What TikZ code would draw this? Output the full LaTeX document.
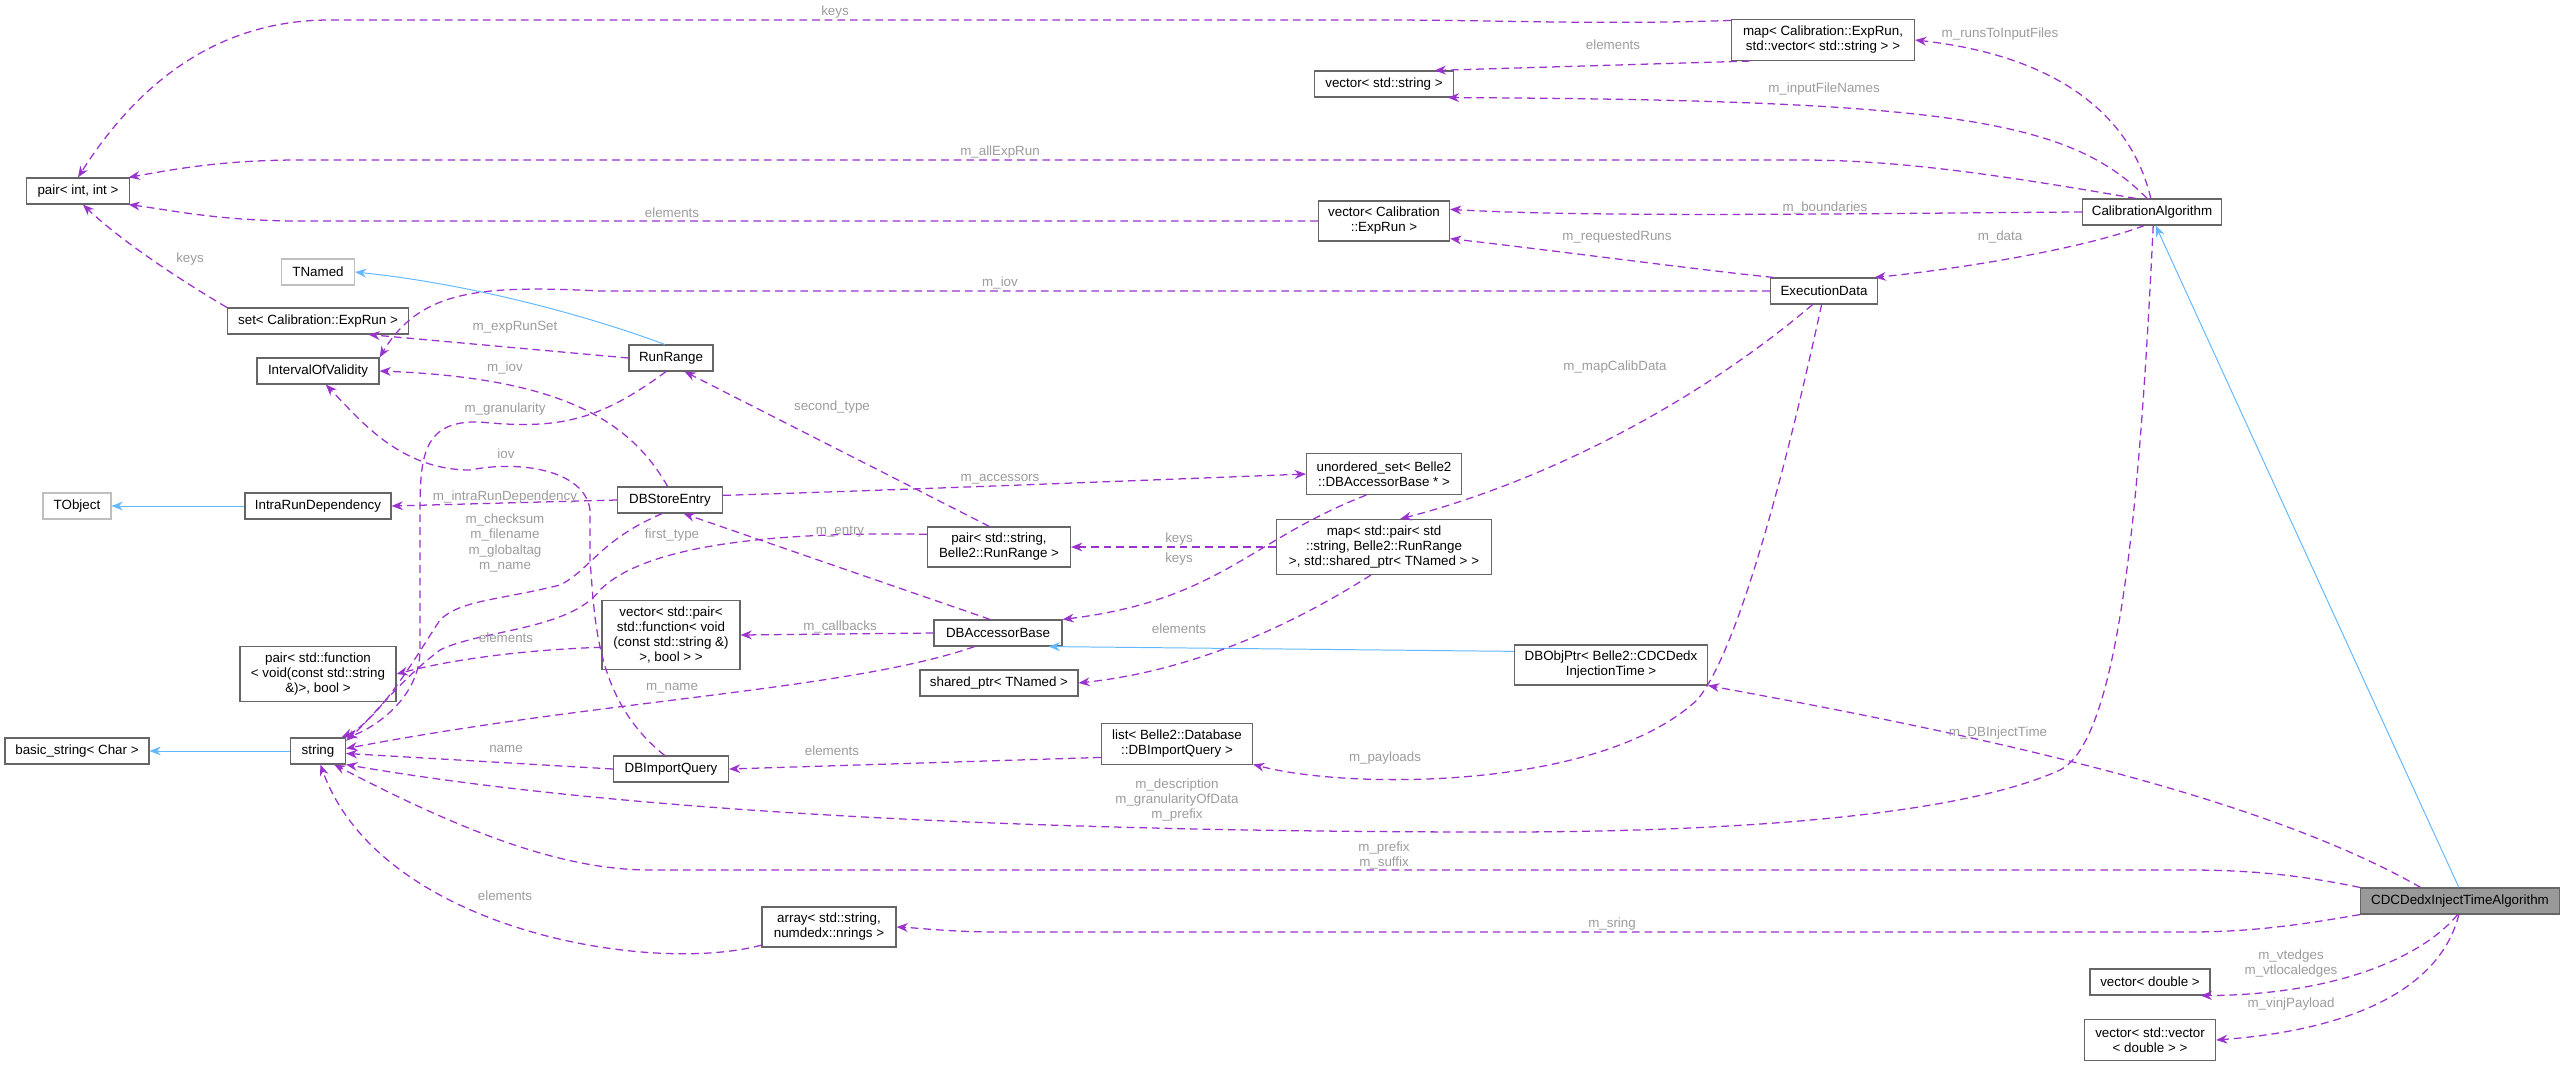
\documentclass[tikz,border=0pt]{standalone}
\usepackage{fontspec}
\setmainfont{Liberation Sans}
\usetikzlibrary{arrows.meta}
\definecolor{edgepurple}{HTML}{9A32CD}
\definecolor{inhblue}{HTML}{63B8FF}
\definecolor{lblgray}{HTML}{9C9C9C}
\definecolor{boxgray}{HTML}{666666}
\definecolor{extgray}{HTML}{BFBFBF}
\tikzset{
  cls/.style 2 args={draw=boxgray, fill=white, line width=0.8pt, minimum width=#1*0.025cm,
    minimum height=#2*0.025cm, align=center, inner sep=1pt, font=\fontsize{9.5}{10.7}\selectfont},
  ext/.style={draw=extgray},
  dep/.style={draw=edgepurple, line width=0.9pt, dash pattern=on 5.5pt off 3.5pt,
    -{Stealth[length=2.8mm, width=2.2mm]}},
  inh/.style={draw=inhblue, line width=0.7pt, -{Stealth[length=2.8mm, width=2.2mm]}},
  lbl/.style={text=lblgray, align=center, inner sep=0pt, font=\fontsize{9.5}{10.7}\selectfont}
}
\begin{document}
\begin{tikzpicture}[x=0.025cm, y=-0.025cm]
  \useasboundingbox (0,0) rectangle (2561,1065);
  % classes
  \node[cls={103}{26}] (pairii) at (78,191) {pair< int, int >};
  \node[cls={139}{26}] (vecstr) at (1384,84) {vector< std::string >};
  \node[cls={183}{41}] (mapexp) at (1823,40) {map< Calibration::ExpRun,\\ std::vector< std::string > >};
  \node[cls={131}{40}] (vecexp) at (1384,221) {vector< Calibration\\::ExpRun >};
  \node[cls={139}{26}] (calib) at (2152,212) {CalibrationAlgorithm};
  \node[cls={107}{26}] (execd) at (1824,291) {ExecutionData};
  \node[cls={73}{26}, ext] (tnamed) at (318,272) {TNamed};
  \node[cls={181}{26}] (setexp) at (318,321) {set< Calibration::ExpRun >};
  \node[cls={122}{26}] (iov) at (318,371) {IntervalOfValidity};
  \node[cls={84}{26}] (runrange) at (671,358) {RunRange};
  \node[cls={68}{26}, ext] (tobject) at (77,506) {TObject};
  \node[cls={146}{26}] (intra) at (318,506) {IntraRunDependency};
  \node[cls={105}{26}] (dbstore) at (670,500) {DBStoreEntry};
  \node[cls={155}{41}] (unord) at (1384,474) {unordered\_set< Belle2\\::DBAccessorBase * >};
  \node[cls={215}{55}] (mappair) at (1384,547) {map< std::pair< std\\::string, Belle2::RunRange\\ >, std::shared\_ptr< TNamed > >};
  \node[cls={143}{40}] (pairsr) at (999,547) {pair< std::string,\\ Belle2::RunRange >};
  \node[cls={138}{69}] (vecpf) at (671,635) {vector< std::pair<\\ std::function< void\\ (const std::string \&)\\ >, bool > >};
  \node[cls={156}{55}] (pairfn) at (318,674) {pair< std::function\\ < void(const std::string\\ \&)>, bool >};
  \node[cls={128}{26}] (dbacc) at (998,633) {DBAccessorBase};
  \node[cls={158}{26}] (shptr) at (999,683) {shared\_ptr< TNamed >};
  \node[cls={193}{40}] (dbobj) at (1611,665) {DBObjPtr< Belle2::CDCDedx\\ InjectionTime >};
  \node[cls={144}{26}] (bstr) at (77,751) {basic\_string< Char >};
  \node[cls={55}{26}] (str) at (318,751) {string};
  \node[cls={115}{26}] (dbimp) at (671,769) {DBImportQuery};
  \node[cls={151}{41}] (list) at (1177,744) {list< Belle2::Database\\ ::DBImportQuery >};
  \node[cls={134}{40}] (array) at (829,927) {array< std::string,\\ numdedx::nrings >};
  \node[cls={199}{26}, fill=black!40] (cdc) at (2460,901) {CDCDedxInjectTimeAlgorithm};
  \node[cls={120}{26}] (vecd) at (2150,982) {vector< double >};
  \node[cls={131}{41}] (vecv) at (2150,1040) {vector< std::vector\\ < double > >};

  % inheritance
  \draw[inh] (runrange.115) .. controls (600,320) and (480,285) .. (tnamed.east);
  \draw[inh] (intra.west) -- (tobject.east);
  \draw[inh] (str.west) -- (bstr.east);
  \draw[inh] (dbobj.172) -- (dbacc.-15);
  \draw[inh] (cdc.95) -- (calib.-75);

  % members
  \draw[dep] (mapexp.168) .. controls (1600,25) and (1500,20) .. (1380,20) -- (330,20) .. controls (220,20) and (140,80) .. (pairii.north);
  \node[lbl] (l-keys1) at (835,12) {keys};
  \draw[dep] (mapexp.196) -- (vecstr.15);
  \node[lbl] (l-elem1) at (1613,45) {elements};
  \draw[dep] (calib.95) .. controls (2130,110) and (2050,55) .. (mapexp.east);
  \node[lbl] (l-runs) at (2000,34) {m\_runsToInputFiles};
  \draw[dep] (calib.110) .. controls (2070,120) and (1950,100) .. (vecstr.-12);
  \node[lbl] (l-input) at (1824,89) {m\_inputFileNames};
  \draw[dep] (calib.140) .. controls (2000,175) and (1900,160) .. (1800,160) -- (300,160) .. controls (220,160) and (170,170) .. (pairii.15);
  \node[lbl] (l-allexp) at (1000,152) {m\_allExpRun};
  \draw[dep] (vecexp.west) -- (300,221) .. controls (220,221) and (170,210) .. (pairii.-15);
  \node[lbl] (l-elem2) at (672,213) {elements};
  \draw[dep] (calib.west) .. controls (1900,213) and (1600,218) .. (vecexp.10);
  \node[lbl] (l-bound) at (1825,208) {m\_boundaries};
  \draw[dep] (execd.165) .. controls (1700,270) and (1550,250) .. (vecexp.-15);
  \node[lbl] (l-reqruns) at (1617,237) {m\_requestedRuns};
  \draw[dep] (calib.-120) .. controls (2080,250) and (1950,270) .. (execd.15);
  \node[lbl] (l-data) at (2000,237) {m\_data};
  \draw[dep] (execd.west) -- (600,291) .. controls (480,285) and (420,290) .. (iov.north east);
  \node[lbl] (l-iov1) at (1000,283) {m\_iov};
  \draw[dep] (runrange.west) -- (setexp.-15);
  \node[lbl] (l-exprs) at (515,327) {m\_expRunSet};
  \draw[dep] (setexp.north west) .. controls (180,280) and (120,240) .. (pairii.-70);
  \node[lbl] (l-keys2) at (190,259) {keys};
  \draw[dep] (dbstore.100) .. controls (630,420) and (560,378) .. (iov.east);
  \node[lbl] (l-iov2) at (505,368) {m\_iov};
  \draw[dep] (runrange.-110) .. controls (600,420) and (560,430) .. (480,422) .. controls (420,420) and (420,460) .. (420,520) -- (420,650) .. controls (420,700) and (370,730) .. (str.north east);
  \node[lbl] (l-gran) at (505,409) {m\_granularity};
  \draw[dep] (dbimp.115) .. controls (595,700) and (595,620) .. (590,560) -- (590,510) .. controls (585,470) and (520,460) .. (470,470) .. controls (400,470) and (360,420) .. (iov.-60);
  \node[lbl] (l-iov3) at (506,454) {iov};
  \draw[dep] (dbstore.west) -- (intra.east);
  \node[lbl] (l-intra) at (505,497) {m\_intraRunDependency};
  \draw[dep] (dbstore.-120) .. controls (600,540) and (590,570) .. (560,585) .. controls (500,600) and (460,600) .. (440,620) .. controls (420,650) and (380,720) .. (str.30);
  \node[lbl] (l-chk) at (505,543) {m\_checksum\\m\_filename\\m\_globaltag\\m\_name};
  \draw[dep] (pairsr.170) .. controls (800,532) and (650,540) .. (600,590) .. controls (570,630) and (480,630) .. (440,650) .. controls (400,680) and (370,720) .. (str.20);
  \node[lbl] (l-first) at (672,535) {first\_type};
  \draw[dep] (dbacc.120) -- (dbstore.-45);
  \node[lbl] (l-entry) at (840,532) {m\_entry};
  \draw[dep] (pairsr.115) -- (runrange.-45);
  \node[lbl] (l-second) at (832,407) {second\_type};
  \draw[dep] (dbstore.5) .. controls (900,490) and (1150,480) .. (unord.west);
  \node[lbl] (l-acc) at (1000,479) {m\_accessors};
  \draw[dep] (dbacc.west) -- (vecpf.east);
  \node[lbl] (l-callb) at (840,627) {m\_callbacks};
  \draw[dep] (vecpf.-170) .. controls (520,650) and (450,660) .. (pairfn.east);
  \node[lbl] (l-elem3) at (506,638) {elements};
  \draw[dep] (dbacc.-150) .. controls (850,690) and (600,700) .. (str.5);
  \node[lbl] (l-name1) at (672,688) {m\_name};
  \draw[dep] (dbimp.west) -- (str.-5);
  \node[lbl] (l-name2) at (506,749) {name};
  \draw[dep] (list.-170) -- (dbimp.east);
  \node[lbl] (l-elem4) at (832,751) {elements};
  \draw[dep] (unord.-130) .. controls (1250,540) and (1220,600) .. (dbacc.north east);
  \node[lbl] (l-keys3) at (1179,559) {keys};
  \draw[dep] (mappair.west) -- (pairsr.east);
  \node[lbl] (l-keys4) at (1179,539) {keys};
  \draw[dep] (mappair.-115) .. controls (1300,620) and (1200,670) .. (shptr.east);
  \node[lbl] (l-elem5) at (1179,629) {elements};
  \draw[dep] (execd.-130) .. controls (1700,400) and (1550,480) .. (mappair.60);
  \node[lbl] (l-mapcal) at (1615,367) {m\_mapCalibData};
  \draw[dep] (execd.-100) .. controls (1790,450) and (1740,650) .. (1697,700) .. controls (1600,790) and (1350,790) .. (list.-15);
  \node[lbl] (l-payl) at (1385,758) {m\_payloads};
  \draw[dep] (cdc.161) .. controls (2250,790) and (1950,730) .. (dbobj.south east);
  \node[lbl] (l-dbinj) at (1998,733) {m\_DBInjectTime};
  \draw[dep] (calib.-85) .. controls (2140,500) and (2120,740) .. (2060,770) .. controls (1950,820) and (1700,832) .. (1500,832) .. controls (900,832) and (550,800) .. (str.south east);
  \node[lbl] (l-desc) at (1177,800) {m\_description\\m\_granularityOfData\\m\_prefix};
  \draw[dep] (cdc.north west) .. controls (2300,875) and (2250,870) .. (2189,870) -- (650,870) .. controls (560,870) and (460,830) .. (str.-40);
  \node[lbl] (l-prefix) at (1384,855) {m\_prefix\\m\_suffix};
  \draw[dep] (cdc.south west) .. controls (2300,925) and (2250,932) .. (2189,932) -- (1000,932) .. controls (950,932) and (920,928) .. (array.east);
  \node[lbl] (l-sring) at (1612,924) {m\_sring};
  \draw[dep] (array.-165) .. controls (650,975) and (380,930) .. (str.-80);
  \node[lbl] (l-elem6) at (505,896) {elements};
  \draw[dep] (cdc.-100) .. controls (2420,960) and (2330,995) .. (vecd.-15);
  \node[lbl] (l-vted) at (2291,964) {m\_vtedges\\m\_vtlocaledges};
  \draw[dep] (cdc.-95) .. controls (2440,990) and (2350,1030) .. (vecv.east);
  \node[lbl] (l-vinj) at (2291,1004) {m\_vinjPayload};
\end{tikzpicture}
\end{document}
